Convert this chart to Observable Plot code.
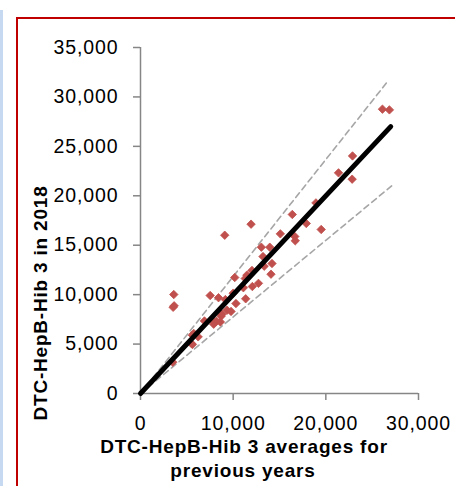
<!DOCTYPE html>
<html><head><meta charset="utf-8">
<script src="https://cdn.jsdelivr.net/npm/d3@7"></script>
<script src="https://cdn.jsdelivr.net/npm/@observablehq/plot@0.6"></script>
<style>
body{margin:0;background:#fff;}
#wrap{position:relative;width:455px;height:486px;overflow:hidden;background:#fff;}
#bar{position:absolute;left:0;top:10px;width:3px;height:476px;background:#c6d9f1;}
#frame{position:absolute;left:16px;top:17px;width:460px;height:480px;border-left:2px solid #c00000;border-top:2px solid #c00000;}
#chart{position:absolute;left:0;top:0;}
</style></head><body>
<div id="wrap"><div id="bar"></div><div id="frame"></div><div id="chart"></div></div>
<script>
// DTC-HepB-Hib 3: average of previous years (x) vs 2018 (y)
const prevYearsAvg = [26110,26860,22880,21370,22840,18930,16380,17890,19500,15090,16650,16700,11930,9090,13040,13950,13220,14190,13350,14080,12030,11480,11300,10170,12730,12070,11100,11350,10300,7520,8420,10000,3590,3520,3630,9340,9770,8700,8800,7970,8190,6900,7900,8620,5600,5750,5500,5600,6220,3480,9160];
const in2018 = [28760,28690,24030,22320,21680,19280,18110,17200,16590,16150,15880,15450,17130,16010,14800,14800,13850,13150,12880,12070,12450,11970,11630,11730,11140,10820,10700,9580,9100,9910,9690,10150,10010,8720,8870,8430,8300,7820,8020,7180,7310,7340,7010,7240,5900,6070,5060,4960,5730,3170,9500];
const xTicks = [0,10000,20000,30000];
const yTicks = [0,5000,10000,15000,20000,25000,30000,35000];
// reference lines (equality line and upper / lower bounds)
const equalX = [0,27000], equalY = [0,27000];
const upperX = [0,26700], upperY = [0,31600];
const lowerX = [0,27100], lowerY = [0,21000];
const xTitle = ["DTC-HepB-Hib 3 averages for","previous years"];
const yTitle = "DTC-HepB-Hib 3 in 2018";

const pts = prevYearsAvg.map((x,i)=>({x, y: in2018[i]}));
const seg = (xs,ys)=>xs.map((x,i)=>({x,y:ys[i]}));
const axisColor = "#868686";
const fmt = d3.format(",");
const FONT = "'Liberation Sans', Arial, sans-serif";

const chart = Plot.plot({
  width: 455, height: 486,
  marginLeft: 140, marginRight: 37, marginTop: 47, marginBottom: 93,
  style: {fontFamily: FONT, fontSize: "19.5px", letterSpacing: "0.9px", color: "#000", background: "transparent", overflow: "visible"},
  x: {domain: [0,30000], ticks: xTicks, tickFormat: fmt},
  y: {domain: [0,35000], ticks: yTicks, tickFormat: fmt},
  marks: [
    Plot.axisX({ticks: xTicks, tickFormat: fmt, tickSize: 7, tickPadding: 16, stroke: axisColor, strokeWidth: 1.5, label: null, fill: "#000"}),
    Plot.axisY({ticks: yTicks, tickFormat: fmt, tickSize: 7, tickPadding: 15, stroke: axisColor, strokeWidth: 1.5, label: null, fill: "#000"}),
    Plot.ruleX([0], {stroke: axisColor, strokeWidth: 1.5}),
    Plot.ruleY([0], {stroke: axisColor, strokeWidth: 1.5}),
    Plot.line(seg(upperX,upperY), {x:"x", y:"y", stroke:"#a6a6a6", strokeWidth:1.6, strokeDasharray:"6,4"}),
    Plot.line(seg(lowerX,lowerY), {x:"x", y:"y", stroke:"#a6a6a6", strokeWidth:1.6, strokeDasharray:"6,4"}),
    Plot.dot(pts, {x:"x", y:"y", symbol:"diamond2", r:3.8, fill:"#c0504d", stroke:"#c0504d", strokeWidth:0.8}),
    Plot.line(seg(equalX,equalY), {x:"x", y:"y", stroke:"#000", strokeWidth:5, strokeLinecap:"round"})
  ]
});
const svg = d3.select(chart);
const tstyle = s => s.style("font-family",FONT).style("font-weight","bold").style("font-size","19px").style("letter-spacing","0.8px").attr("fill","#000");
tstyle(svg.append("text").attr("x",244).attr("y",453).attr("text-anchor","middle")).text(xTitle[0]);
tstyle(svg.append("text").attr("x",243).attr("y",477).attr("text-anchor","middle")).text(xTitle[1]);
tstyle(svg.append("text").attr("transform","translate(47,303) rotate(-90)").attr("text-anchor","middle")).text(yTitle);
document.getElementById("chart").appendChild(chart);
</script>
</body></html>
